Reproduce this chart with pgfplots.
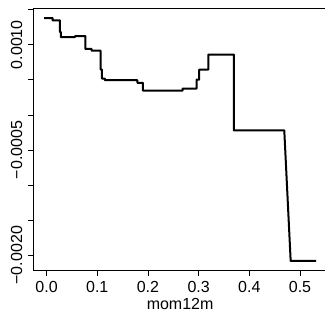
\documentclass[border=0pt]{standalone}
\usepackage{fontspec}
\setmainfont{Liberation Sans}
\usepackage{pgfplots}
\pgfplotsset{compat=1.18}
\begin{document}
\fontsize{12}{14}\selectfont
\begin{tikzpicture}
\begin{axis}[
  at={(24.98pt,37.0pt)}, anchor=south west,
  scale only axis, width=220.2pt, height=196.8pt,
  xmin=-0.0262, xmax=0.5531, ymin=-0.00222, ymax=0.00152,
  axis line style={line width=0.6pt, black},
  tick style={line width=0.6pt, black},
  tick align=outside, major tick length=4pt,
  xtick pos=left, ytick pos=left,
  xtick={0,0.1,0.2,0.3,0.4,0.5},
  xticklabels={0.0,0.1,0.2,0.3,0.4,0.5},
  ytick={-0.0020,-0.0015,-0.0010,-0.0005,0,0.0005,0.0010,0.0015},
  yticklabels={−0.0020,{},{},−0.0005,{},{},0.0010,{}},
  yticklabel style={rotate=90, anchor=south},
  xticklabel style={anchor=north},
  scaled ticks=false,
  xlabel={mom12m},
  xlabel style={at={(axis description cs:0.5,0)}, anchor=base, yshift=-29.5pt},
  ticklabel style={font=\fontsize{12}{14}\selectfont},
  label style={font=\fontsize{12}{14}\selectfont},
]
\addplot[black, line width=1.5pt, line join=round] coordinates {
(-0.0047,0.001381) (0.0118,0.001381) (0.0118,0.001347) (0.0263,0.001347)
(0.0263,0.001182) (0.0282,0.001182) (0.0282,0.001108) (0.0559,0.001108)
(0.0559,0.001123) (0.0766,0.001123) (0.0766,0.000940) (0.0888,0.000940)
(0.0888,0.000916) (0.1066,0.000916) (0.1066,0.000646) (0.1092,0.000646)
(0.1092,0.000518) (0.1151,0.000518) (0.1151,0.000494) (0.1792,0.000494)
(0.1792,0.000457) (0.1901,0.000457) (0.1901,0.000347) (0.2685,0.000347)
(0.2685,0.000376) (0.2961,0.000376) (0.2961,0.000504) (0.3012,0.000504)
(0.3012,0.000646) (0.3190,0.000646) (0.3190,0.000859) (0.3697,0.000859)
(0.3697,-0.000222) (0.4690,-0.000222) (0.4816,-0.002082) (0.5316,-0.002082)
};
\end{axis}
\pgfresetboundingbox
\useasboundingbox (0,0) rectangle (243.75pt,240pt);
\end{tikzpicture}
\end{document}
